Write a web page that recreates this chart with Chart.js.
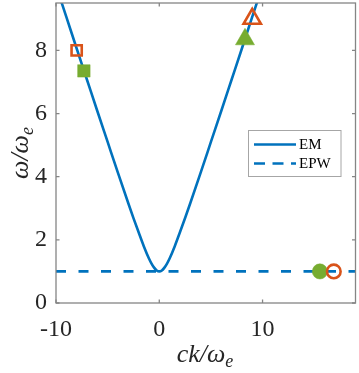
<!DOCTYPE html>
<html>
<head>
<meta charset="utf-8">
<script src="https://cdn.jsdelivr.net/npm/chart.js@4"></script>
<style>
html,body{margin:0;padding:0;background:#fff;}
#wrap{width:359px;height:373px;position:relative;}
</style>
</head>
<body>
<div id="wrap"><canvas id="c" width="359" height="373"></canvas></div>
<script>
// EM dispersion curve
const emK     = [-9.6, -9, -8, -7, -6, -5, -4, -3, -2.5, -2, -1.5, -1, -0.75, -0.5, -0.25, 0, 0.25, 0.5, 0.75, 1, 1.5, 2, 2.5, 3, 4, 5, 6, 7, 8, 9, 9.6];
const emOmega = [9.65, 9.06, 8.06, 7.07, 6.08, 5.10, 4.12, 3.16, 2.69, 2.24, 1.80, 1.41, 1.25, 1.12, 1.03, 1.0, 1.03, 1.12, 1.25, 1.41, 1.80, 2.24, 2.69, 3.16, 4.12, 5.10, 6.08, 7.07, 8.06, 9.06, 9.65];
// EPW flat line
const epwK     = [-10, 19];
const epwOmega = [1, 1];
// Markers
const orangeSquare   = [-8.0, 8.0];
const greenSquare    = [-7.3, 7.35];
const greenTriangle  = [8.3, 8.35];
const orangeTriangle = [9.0, 9.0];
const greenCircle    = [15.55, 1.0];
const orangeCircle   = [16.9, 1.0];
// Axes
const xTicks = [-10, 0, 10];
const yTicks = [0, 2, 4, 6, 8];
const xRange = [-10, 19];
const yRange = [0, 9.5];
const legendLabels = ['EM', 'EPW'];

const BLUE = '#0072BD', ORANGE = '#D95319', GREEN = '#77AC30', AXIS = '#858585', TEXT = '#262626';
const SERIF = '"Liberation Serif", "Times New Roman", serif';

const pts = (xs, ys) => xs.map((x, i) => ({x: x, y: ys[i]}));
const pt = p => [{x: p[0], y: p[1]}];

const decor = {
  id: 'decor',
  afterDraw(chart) {
    const ctx = chart.ctx, a = chart.chartArea;
    const xs = chart.scales.x, ys = chart.scales.y;
    ctx.save();
    // box
    ctx.strokeStyle = AXIS; ctx.lineWidth = 1.3;
    ctx.strokeRect(a.left, a.top, a.right - a.left, a.bottom - a.top);
    // inward ticks
    const tl = 3.5;
    ctx.beginPath();
    xTicks.forEach(v => {
      const px = xs.getPixelForValue(v);
      ctx.moveTo(px, a.bottom); ctx.lineTo(px, a.bottom - tl);
      ctx.moveTo(px, a.top); ctx.lineTo(px, a.top + tl);
    });
    yTicks.forEach(v => {
      const py = ys.getPixelForValue(v);
      ctx.moveTo(a.left, py); ctx.lineTo(a.left + tl, py);
      ctx.moveTo(a.right, py); ctx.lineTo(a.right - tl, py);
    });
    ctx.stroke();

    // axis titles with subscripts
    const drawSub = (parts, cx, cy) => {
      let w = 0;
      parts.forEach(p => { ctx.font = 'italic ' + p[1] + 'px ' + SERIF; w += ctx.measureText(p[0]).width; });
      let x = cx - w / 2;
      ctx.textBaseline = 'alphabetic'; ctx.textAlign = 'left'; ctx.fillStyle = TEXT;
      parts.forEach(p => {
        ctx.font = 'italic ' + p[1] + 'px ' + SERIF;
        ctx.fillText(p[0], x, cy + p[2]);
        x += ctx.measureText(p[0]).width;
      });
    };
    drawSub([['ck/ω', 26, 0], ['e', 18, 5]], 205, 362);
    ctx.save();
    ctx.translate(28, 153);
    ctx.rotate(-Math.PI / 2);
    drawSub([['ω/ω', 26, 0], ['e', 18, 5]], 0, 0);
    ctx.restore();

    // legend
    const lx = 248.5, ly = 130.5, lw = 92.5, lh = 46;
    ctx.fillStyle = '#fff';
    ctx.fillRect(lx, ly, lw, lh);
    ctx.strokeStyle = '#a6a6a6'; ctx.lineWidth = 1;
    ctx.strokeRect(lx, ly, lw, lh);
    const rows = [ly + 14, ly + 33];
    ctx.strokeStyle = BLUE; ctx.lineWidth = 2.5;
    ctx.setLineDash([]);
    ctx.beginPath(); ctx.moveTo(254, rows[0]); ctx.lineTo(296, rows[0]); ctx.stroke();
    ctx.setLineDash([11, 7.5]);
    ctx.beginPath(); ctx.moveTo(254, rows[1]); ctx.lineTo(296, rows[1]); ctx.stroke();
    ctx.setLineDash([]);
    ctx.fillStyle = '#000';
    ctx.font = '15px ' + SERIF;
    ctx.textBaseline = 'middle'; ctx.textAlign = 'left';
    legendLabels.forEach((t, i) => ctx.fillText(t, 299, rows[i] + 0.5));
    ctx.restore();
  }
};

const noPad = s => { s.paddingTop = 0; s.paddingBottom = 0; s.paddingLeft = 0; s.paddingRight = 0; };

new Chart(document.getElementById('c'), {
  type: 'scatter',
  data: {
    datasets: [
      {data: pt(orangeCircle), pointStyle: 'circle', pointRadius: 6.8, backgroundColor: 'rgba(0,0,0,0)', borderColor: ORANGE, borderWidth: 2.6},
      {data: pt(greenCircle), pointStyle: 'circle', pointRadius: 7.6, backgroundColor: GREEN, borderColor: GREEN, borderWidth: 0.5},
      {data: pt(orangeTriangle), pointStyle: 'triangle', pointRadius: 10, backgroundColor: 'rgba(0,0,0,0)', borderColor: ORANGE, borderWidth: 2.6},
      {data: pt(greenTriangle), pointStyle: 'triangle', pointRadius: 11, backgroundColor: GREEN, borderColor: GREEN, borderWidth: 0.5},
      {data: pt(orangeSquare), pointStyle: 'rect', pointRadius: 7.2, backgroundColor: 'rgba(0,0,0,0)', borderColor: ORANGE, borderWidth: 2.6},
      {data: pt(greenSquare), pointStyle: 'rect', pointRadius: 8.8, backgroundColor: GREEN, borderColor: GREEN, borderWidth: 0.5},
      {data: pts(emK, emOmega), showLine: true, pointRadius: 0, borderColor: BLUE, borderWidth: 2.6, cubicInterpolationMode: 'monotone', fill: false},
      {data: pts(epwK, epwOmega), showLine: true, pointRadius: 0, borderColor: BLUE, borderWidth: 2.6, borderDash: [10, 12.5], fill: false}
    ]
  },
  options: {
    responsive: false,
    animation: false,
    events: [],
    layout: {autoPadding: false, padding: {left: 0, right: 3.5, top: 3, bottom: 0}},
    plugins: {legend: {display: false}, tooltip: {enabled: false}},
    scales: {
      x: {
        type: 'linear', min: xRange[0], max: xRange[1],
        grid: {display: false, drawTicks: false},
        border: {display: false},
        ticks: {color: TEXT, font: {family: SERIF, size: 24}, padding: 12, maxRotation: 0},
        afterBuildTicks: s => { s.ticks = xTicks.map(v => ({value: v})); },
        afterFit: s => { s.height = 70; noPad(s); }
      },
      y: {
        type: 'linear', min: yRange[0], max: yRange[1],
        grid: {display: false, drawTicks: false},
        border: {display: false},
        ticks: {color: TEXT, font: {family: SERIF, size: 24}, padding: 9},
        afterBuildTicks: s => { s.ticks = yTicks.map(v => ({value: v})); },
        afterFit: s => { s.width = 56; noPad(s); }
      }
    }
  },
  plugins: [decor]
});
</script>
</body>
</html>
